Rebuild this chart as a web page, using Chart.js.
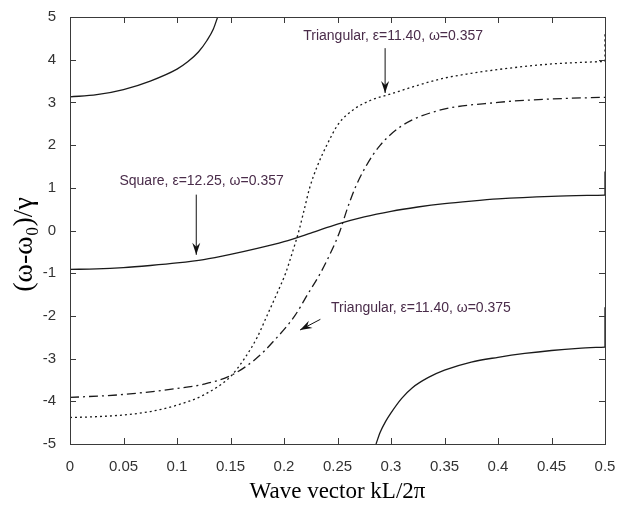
<!DOCTYPE html>
<html>
<head>
<meta charset="utf-8">
<script src="https://cdn.jsdelivr.net/npm/chart.js@4.4.1/dist/chart.umd.min.js"></script>
<style>
  body { margin: 0; background: #fff; }
</style>
</head>
<body>
<canvas id="myChart" width="628" height="510"></canvas>
<script>

// tick labels
var xTickLabels = ["0", "0.05", "0.1", "0.15", "0.2", "0.25", "0.3", "0.35", "0.4", "0.45", "0.5"];
var yTickLabels = ["-5", "-4", "-3", "-2", "-1", "0", "1", "2", "3", "4", "5"];

// upper solid branch (square lattice)
var upperX = [0, 0.025, 0.05, 0.075, 0.1, 0.11, 0.12, 0.128, 0.134, 0.138];
var upperY = [3.13, 3.18, 3.3, 3.5, 3.78, 3.95, 4.18, 4.45, 4.72, 5.0];

// middle solid branch: Square, eps=12.25, w=0.357
var squareX = [0, 0.025, 0.05, 0.075, 0.1, 0.125, 0.15, 0.175, 0.2, 0.225, 0.25, 0.275, 0.3, 0.325, 0.35, 0.375, 0.4, 0.45, 0.5];
var squareY = [-0.91, -0.9, -0.87, -0.82, -0.76, -0.68, -0.56, -0.42, -0.26, -0.06, 0.15, 0.32, 0.45, 0.55, 0.63, 0.69, 0.74, 0.8, 0.83];

// lower solid branch
var lowerX = [0.286, 0.29, 0.295, 0.3, 0.31, 0.32, 0.335, 0.35, 0.375, 0.4, 0.425, 0.45, 0.475, 0.5];
var lowerY = [-5, -4.72, -4.47, -4.27, -3.93, -3.68, -3.44, -3.27, -3.08, -2.97, -2.88, -2.81, -2.76, -2.73];

// dotted: Triangular, eps=11.40, w=0.357
var tri357X = [0, 0.025, 0.05, 0.075, 0.1, 0.125, 0.15, 0.163, 0.175, 0.184, 0.193, 0.2015, 0.208, 0.214, 0.219, 0.224, 0.231, 0.24, 0.251, 0.266, 0.281, 0.3, 0.325, 0.35, 0.375, 0.4, 0.45, 0.5];
var tri357Y = [-4.38, -4.36, -4.32, -4.24, -4.09, -3.85, -3.42, -3.0, -2.5, -2.0, -1.5, -1.0, -0.5, 0, 0.5, 1.0, 1.5, 2.0, 2.5, 2.85, 3.05, 3.2, 3.4, 3.57, 3.68, 3.77, 3.9, 3.96];

// dash-dot: Triangular, eps=11.40, w=0.375
var tri375X = [0, 0.05, 0.1, 0.125, 0.15, 0.174, 0.19, 0.21, 0.222, 0.234, 0.244, 0.2525, 0.259, 0.2665, 0.2765, 0.29, 0.31, 0.343, 0.4, 0.45, 0.5];
var tri375Y = [-3.91, -3.84, -3.7, -3.6, -3.4, -3.0, -2.6, -2.0, -1.5, -1.0, -0.5, 0, 0.5, 1.0, 1.5, 2.0, 2.45, 2.8, 3.0, 3.08, 3.12];

// the short vertical jumps at the zone edge (kL/2pi = 0.5)
var edgeX = [0.5, 0.5];
var squareEdgeY = [0.83, 1.38];
var lowerEdgeY = [-2.73, -1.8];
var tri357EdgeY = [3.96, 4.66];

// annotation texts
var noteTexts = ["Triangular, \u03b5=11.40, \u03c9=0.357", "Square, \u03b5=12.25, \u03c9=0.357", "Triangular, \u03b5=11.40, \u03c9=0.375"];

// where they sit, in data units
var notes = [
  { x: 0.302, y: 4.55, from: [0.2945, 4.27], to: [0.2945, 3.22] },
  { x: 0.123, y: 1.15, from: [0.118, 0.84], to: [0.118, -0.57] },
  { x: 0.328, y: -1.82, from: [0.234, -2.08], to: [0.215, -2.33] }
];

function pts(xs, ys) {
  return xs.map(function(x, i) { return { x: x, y: ys[i] }; });
}

var lineColor = "#1a1a1a";
var axisColor = "#3a3a3a";
var dots = [2, 3];
var dashDot = [9, 4, 2, 4];

// box + inward ticks on all four sides, like matlab
var boxPlugin = {
  id: "box",
  afterDatasetsDraw: function(chart) {
    var c = chart.ctx, a = chart.chartArea;
    var xs = chart.scales.x, ys = chart.scales.y;
    c.save();
    c.strokeStyle = axisColor;
    c.lineWidth = 1;
    c.strokeRect(a.left + 0.5, a.top + 0.5, a.right - a.left, a.bottom - a.top);
    c.beginPath();
    xs.ticks.forEach(function(t) {
      var px = Math.round(xs.getPixelForValue(t.value)) + 0.5;
      c.moveTo(px, a.bottom); c.lineTo(px, a.bottom - 6);
      c.moveTo(px, a.top); c.lineTo(px, a.top + 6);
    });
    ys.ticks.forEach(function(t) {
      var py = Math.round(ys.getPixelForValue(t.value)) + 0.5;
      c.moveTo(a.left, py); c.lineTo(a.left + 6, py);
      c.moveTo(a.right, py); c.lineTo(a.right - 6, py);
    });
    c.stroke();
    c.restore();
  }
};

// text labels with arrows
var notePlugin = {
  id: "notes",
  afterDatasetsDraw: function(chart) {
    var c = chart.ctx;
    var xs = chart.scales.x, ys = chart.scales.y;
    c.save();
    c.font = "14px 'Liberation Sans', Arial, sans-serif";
    c.textAlign = "center";
    c.textBaseline = "middle";
    notes.forEach(function(n, i) {
      c.fillStyle = "#4a2c4a";
      c.fillText(noteTexts[i], xs.getPixelForValue(n.x), ys.getPixelForValue(n.y));
      var x1 = xs.getPixelForValue(n.from[0]), y1 = ys.getPixelForValue(n.from[1]);
      var x2 = xs.getPixelForValue(n.to[0]), y2 = ys.getPixelForValue(n.to[1]);
      c.strokeStyle = "#111";
      c.lineWidth = 1;
      c.beginPath(); c.moveTo(x1, y1); c.lineTo(x2, y2); c.stroke();
      var ang = Math.atan2(y2 - y1, x2 - x1);
      c.fillStyle = "#111";
      c.beginPath();
      c.moveTo(x2, y2);
      c.lineTo(x2 - 12 * Math.cos(ang) + 4 * Math.sin(ang), y2 - 12 * Math.sin(ang) - 4 * Math.cos(ang));
      c.lineTo(x2 - 8 * Math.cos(ang), y2 - 8 * Math.sin(ang));
      c.lineTo(x2 - 12 * Math.cos(ang) - 4 * Math.sin(ang), y2 - 12 * Math.sin(ang) + 4 * Math.cos(ang));
      c.closePath();
      c.fill();
    });
    c.restore();
  }
};

var ctx = document.getElementById("myChart");

var chart = new Chart(ctx, {
  type: "line",
  data: {
    datasets: [
      { data: pts(upperX, upperY), borderColor: lineColor, borderWidth: 1.3 },
      { data: pts(squareX, squareY), borderColor: lineColor, borderWidth: 1.3 },
      { data: pts(lowerX, lowerY), borderColor: lineColor, borderWidth: 1.3 },
      { data: pts(tri357X, tri357Y), borderColor: lineColor, borderWidth: 1.3, borderDash: dots },
      { data: pts(tri375X, tri375Y), borderColor: lineColor, borderWidth: 1.3, borderDash: dashDot },
      { data: pts(edgeX, squareEdgeY), borderColor: lineColor, borderWidth: 1.3 },
      { data: pts(edgeX, lowerEdgeY), borderColor: lineColor, borderWidth: 1.3 },
      { data: pts(edgeX, tri357EdgeY), borderColor: lineColor, borderWidth: 1.3, borderDash: dots }
    ]
  },
  options: {
    responsive: false,
    animation: false,
    layout: { padding: { top: 17, right: 23, left: 0, bottom: 0 } },
    elements: {
      point: { radius: 0 },
      line: { cubicInterpolationMode: "monotone", fill: false }
    },
    plugins: {
      legend: { display: false },
      tooltip: { enabled: false }
    },
    scales: {
      x: {
        type: "linear",
        min: 0,
        max: 0.5,
        grid: { display: false },
        border: { display: false },
        ticks: {
          stepSize: 0.05,
          color: "#333",
          padding: 6,
          maxRotation: 0,
          font: { family: "'Liberation Sans', Arial, sans-serif", size: 15 },
          callback: function(v, i) { return xTickLabels[i]; }
        },
        title: {
          display: true,
          text: "Wave vector kL/2\u03c0",
          color: "#000",
          padding: { top: 0, bottom: 4 },
          font: { family: "'Liberation Serif', 'Times New Roman', serif", size: 23 }
        },
        afterFit: function(s) { s.height = 66; }
      },
      y: {
        type: "linear",
        min: -5,
        max: 5,
        grid: { display: false },
        border: { display: false },
        ticks: {
          stepSize: 1,
          color: "#333",
          padding: 6,
          font: { family: "'Liberation Sans', Arial, sans-serif", size: 15 },
          callback: function(v, i) { return yTickLabels[i]; }
        },
        title: {
          display: true,
          // trailing em space nudges the visible label a little lower, as in the original
          text: "(\u03c9-\u03c9\u2080)/\u03b3\u2003",
          color: "#000",
          padding: { top: 8, bottom: 0 },
          font: { family: "'Liberation Serif', 'Times New Roman', serif", size: 28 }
        },
        afterFit: function(s) { s.width = 70; }
      }
    }
  },
  plugins: [boxPlugin, notePlugin]
});

</script>
</body>
</html>
